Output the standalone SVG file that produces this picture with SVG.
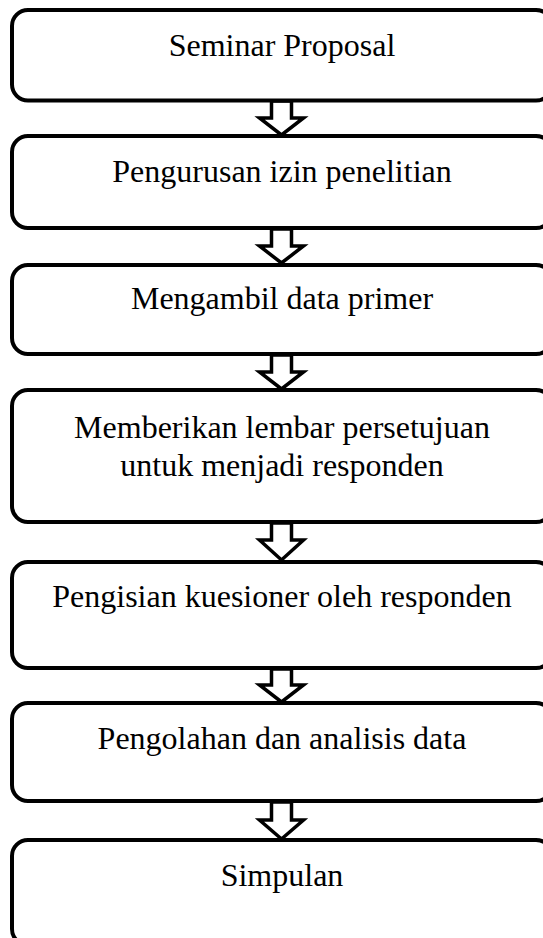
<svg xmlns="http://www.w3.org/2000/svg" width="543" height="938" viewBox="0 0 543 938">
<defs>
<style>
.box{fill:#fff;stroke:#000;stroke-width:4}
.arr{fill:#fff;stroke:#000;stroke-width:3.5;stroke-linejoin:miter}
text{font-family:"Liberation Serif","Times New Roman",serif;font-size:32px;fill:#000;text-anchor:middle}
</style>
</defs>
<rect width="543" height="938" fill="#fff"/>
<g id="connectors">
<path class="arr" d="M271.5,101 V118 H259.5 L281.5,135 L303.5,118 H291.5 V101 Z"/>
<path class="arr" d="M271.5,229 V246 H259.5 L281.5,263 L303.5,246 H291.5 V229 Z"/>
<path class="arr" d="M271.5,355 V372 H259.5 L281.5,389 L303.5,372 H291.5 V355 Z"/>
<path class="arr" d="M271.5,523 V540 H259.5 L281.5,560 L303.5,540 H291.5 V523 Z"/>
<path class="arr" d="M271.5,669 V685 H259.5 L281.5,702 L303.5,685 H291.5 V669 Z"/>
<path class="arr" d="M271.5,802 V820 H259.5 L281.5,839 L303.5,820 H291.5 V802 Z"/>
</g>
<g id="n1"><rect class="box" x="12" y="10" width="540" height="90.5" rx="16"/><text x="282" y="56">Seminar Proposal</text></g>
<g id="n2"><rect class="box" x="12" y="136" width="540" height="92" rx="16"/><text x="282" y="182">Pengurusan izin penelitian</text></g>
<g id="n3"><rect class="box" x="12" y="265" width="540" height="89" rx="16"/><text x="282" y="309">Mengambil data primer</text></g>
<g id="n4"><rect class="box" x="12" y="390" width="540" height="132" rx="16"/><text x="282" y="438">Memberikan lembar persetujuan</text><text x="282" y="476">untuk menjadi responden</text></g>
<g id="n5"><rect class="box" x="12" y="562" width="540" height="106" rx="16"/><text x="282" y="607">Pengisian kuesioner oleh responden</text></g>
<g id="n6"><rect class="box" x="12" y="703" width="540" height="98" rx="16"/><text x="282" y="749">Pengolahan dan analisis data</text></g>
<g id="n7"><rect class="box" x="12" y="840" width="540" height="105" rx="16"/><text x="282" y="886">Simpulan</text></g>
</svg>
